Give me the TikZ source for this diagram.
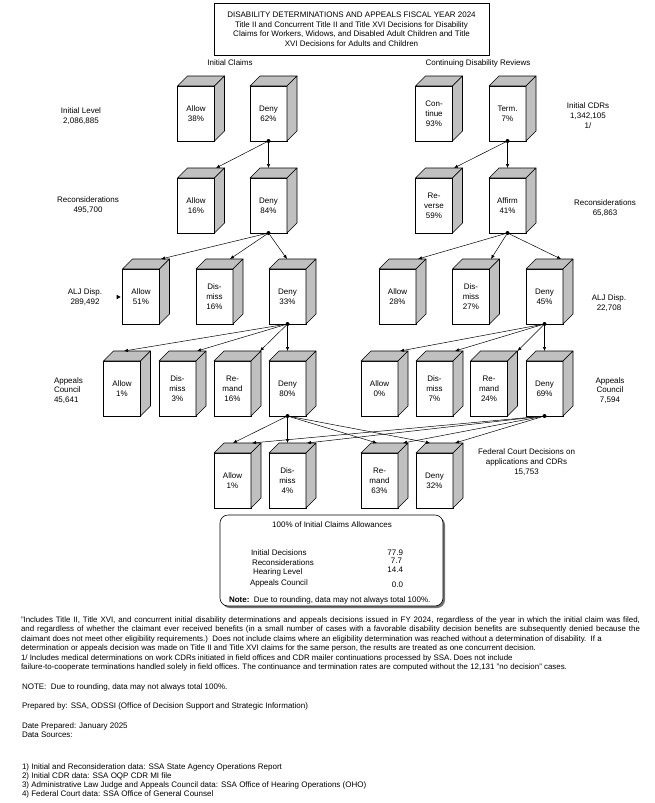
\documentclass[tikz,border=0pt]{standalone}
\usepackage{fontspec}
\setmainfont{Liberation Sans}
\usetikzlibrary{arrows.meta,calc,shadows}
\definecolor{facegray}{HTML}{C0C0C0}
\newcommand{\cubebox}[4]{%
  \node[front] (#1) at (#2,#3) {#4};
  \draw[face] (#1.north west) -- ++(10,-10) -- ($(#1.north east)+(10,-10)$) -- (#1.north east) -- cycle;
  \draw[face] (#1.north east) -- ++(10,-10) -- ($(#1.south east)+(10,-10)$) -- (#1.south east) -- cycle;
}
\begin{document}
\begin{tikzpicture}[x=1pt,y=-1pt,
  every node/.style={inner sep=0pt, outer sep=0pt},
  lbl/.style={font=\fontsize{8}{9.8}\selectfont, align=center},
  lbll/.style={font=\fontsize{8}{9.8}\selectfont, align=left},
  txt/.style={font=\fontsize{8}{9.5}\selectfont, anchor=west},
  fnt/.style={font=\fontsize{7.9}{9.5}\selectfont, anchor=west},
  front/.style={draw, fill=white, line width=0.6pt, minimum width=37pt, minimum height=55pt, font=\fontsize{8}{10}\selectfont, align=center},
  face/.style={draw, fill=facegray, line width=0.6pt, line join=round},
  arr/.style={line width=0.5pt, -{Latex[length=4pt,width=3.4pt]}},
  dotn/.style={circle, fill=black, minimum size=4pt}]
\useasboundingbox (0,0) rectangle (654,803);

% title
\node[draw, line width=0.6pt, minimum width=275pt, minimum height=52pt, font=\fontsize{8}{9.5}\selectfont, align=center] (title) at (351.5,29)
  {DISABILITY DETERMINATIONS AND APPEALS FISCAL YEAR 2024\\
   Title II and Concurrent Title II and Title XVI Decisions for Disability\\
   Claims for Workers, Widows, and Disabled Adult Children and Title\\
   XVI Decisions for Adults and Children};

\node[lbl] (hic) at (230,63) {Initial Claims};
\node[lbl] (hcdr) at (478,63) {Continuing Disability Reviews};

% side labels
\node[lbl] (l1) at (81,116) {Initial Level\\2,086,885};
\node[lbl] (l2) at (88,205) {Reconsiderations\\495,700};
\node[lbl] (l3) at (85,297) {ALJ Disp.\\289,492};
\node[lbll, anchor=west] (l4) at (54,390.5) {Appeals\\Council\\45,641};
\node[lbl] (r1) at (588,115.5) {Initial CDRs\\1,342,105\\1/};
\node[lbl] (r2) at (605,208) {Reconsiderations\\65,863};
\node[lbl] (r3) at (609,303) {ALJ Disp.\\22,708};
\node[lbl] (r4) at (610,390.5) {Appeals\\Council\\7,594};
\node[lbl] (fcl) at (526.5,462) {Federal Court Decisions on\\applications and CDRs\\15,753};

% boxes row 1
\cubebox{icA}{196}{113.5}{Allow\\38\%}
\cubebox{icD}{268.5}{113.5}{Deny\\62\%}
\cubebox{cdC}{434}{113.5}{Con-\\tinue\\93\%}
\cubebox{cdT}{507.5}{113.5}{Term.\\7\%}
% row 2
\cubebox{rcA}{196}{205.5}{Allow\\16\%}
\cubebox{rcD}{268.5}{205.5}{Deny\\84\%}
\cubebox{crR}{434}{205.5}{Re-\\verse\\59\%}
\cubebox{crA}{507.5}{205.5}{Affirm\\41\%}
% row 3 ALJ
\cubebox{laA}{141}{296.5}{Allow\\51\%}
\cubebox{laS}{214.5}{296.5}{Dis-\\miss\\16\%}
\cubebox{laD}{287.5}{296.5}{Deny\\33\%}
\cubebox{raA}{397.5}{296.5}{Allow\\28\%}
\cubebox{raS}{471}{296.5}{Dis-\\miss\\27\%}
\cubebox{raD}{544.5}{296.5}{Deny\\45\%}
% row 4 AC
\cubebox{acA}{122}{388.5}{Allow\\1\%}
\cubebox{acS}{177.5}{388.5}{Dis-\\miss\\3\%}
\cubebox{acR}{232.5}{388.5}{Re-\\mand\\16\%}
\cubebox{acD}{287.5}{388.5}{Deny\\80\%}
\cubebox{bcA}{379.5}{388.5}{Allow\\0\%}
\cubebox{bcS}{434.5}{388.5}{Dis-\\miss\\7\%}
\cubebox{bcR}{489}{388.5}{Re-\\mand\\24\%}
\cubebox{bcD}{544.5}{388.5}{Deny\\69\%}
% row 5 federal court
\cubebox{fcA}{232.5}{480.5}{Allow\\1\%}
\cubebox{fcS}{287.5}{480.5}{Dis-\\miss\\4\%}
\cubebox{fcR}{379.5}{480.5}{Re-\\mand\\63\%}
\cubebox{fcD}{434.5}{480.5}{Deny\\32\%}

% dots
\node[dotn] (d1) at (icD.south) {};
\node[dotn] (d2) at (rcD.south) {};
\node[dotn] (d3) at (laD.south) {};
\node[dotn] (d4) at (acD.south) {};
\node[dotn] (e1) at (cdT.south) {};
\node[dotn] (e2) at (crA.south) {};
\node[dotn] (e3) at (raD.south) {};
\node[dotn] (e4) at (bcD.south) {};

% arrows left
\draw[arr] (d1) -- ($(rcA.north)+(20,-10)$);
\draw[arr] (d1) -- ($(rcD.north)+(0,-10)$);
\draw[arr] (d2) -- ($(laA.north)+(20,-10)$);
\draw[arr] (d2) -- ($(laS.north)+(15.5,-10)$);
\draw[arr] (d2) -- ($(laD.north)+(-0.5,-10)$);
\draw[arr] (d3) -- ($(acA.north)+(2,-10)$);
\draw[arr] (d3) -- ($(acS.north)+(19.5,-10)$);
\draw[arr] (d3) -- ($(acR.north)+(27.5,-10)$);
\draw[arr] (d3) -- ($(acD.north)+(0,-10)$);
% arrows right
\draw[arr] (e1) -- ($(crR.north)+(20,-10)$);
\draw[arr] (e1) -- ($(crA.north)+(0,-10)$);
\draw[arr] (e2) -- ($(raA.north)+(20.5,-10)$);
\draw[arr] (e2) -- ($(raS.north)+(20,-10)$);
\draw[arr] (e2) -- ($(raD.north)+(16.5,-10)$);
\draw[arr] (e3) -- ($(bcA.north)+(20.5,-10)$);
\draw[arr] (e3) -- ($(bcS.north)+(20.5,-10)$);
\draw[arr] (e3) -- ($(bcR.north)+(28.5,-10)$);
\draw[arr] (e3) -- ($(bcD.north)+(0,-10)$);
% federal court arrows
\draw[arr] (d4) -- ($(fcA.north)+(0.5,-10)$);
\draw[arr] (d4) -- ($(fcS.north)+(0,-10)$);
\draw[arr] (d4) -- ($(fcR.north)+(-2.5,-10)$);
\draw[arr] (d4) -- ($(fcD.north)+(-4.5,-10)$);
\draw[arr] (e4) -- ($(fcA.north)+(19.5,-10)$);
\draw[arr] (e4) -- ($(fcS.north)+(19.5,-10)$);
\draw[arr] (e4) -- ($(fcR.north)+(23.5,-10)$);
\draw[arr] (e4) -- ($(fcD.north)+(20.5,-10)$);

% stray arrowhead near ALJ allow
\fill (116.7,294.8) -- (120.7,297) -- (116.7,299.2) -- cycle;

% summary box
\node[draw, fill=white, line width=0.6pt, rounded corners=8pt, minimum width=223pt, minimum height=91pt,
  drop shadow={shadow xshift=2pt, shadow yshift=-2pt, fill=black!55, opacity=1}] (sum) at (331.5,560.5) {};
\node[lbl] (sumt) at (332,525) {100\% of Initial Claims Allowances};
\node[txt] (s1) at (251,553) {Initial Decisions};
\node[txt] (s2) at (252,563) {Reconsiderations};
\node[txt] (s3) at (253,572) {Hearing Level};
\node[txt] (s4) at (250,583) {Appeals Council};
\node[txt, anchor=east] (v1) at (403,553) {77.9};
\node[txt, anchor=east] (v2) at (402,561) {7.7};
\node[txt, anchor=east] (v3) at (403,570) {14.4};
\node[txt, anchor=east] (v4) at (403,585) {0.0};
\node[txt] (snote) at (229,600) {\textbf{Note:}\ \ Due to rounding, data may not always total 100\%.};

% footnotes
\node[fnt] (f1) at (21,620) {\makebox[619pt][s]{"Includes Title II, Title XVI, and concurrent initial disability determinations and appeals decisions issued in FY 2024, regardless of the year in which the initial claim was filed,}};
\node[fnt] (f2) at (21,629.5) {\makebox[619pt][s]{and regardless of whether the claimant ever received benefits (in a small number of cases with a favorable disability decision benefits are subsequently denied because the}};
\node[fnt] (f3) at (21,639) {claimant does not meet other eligibility requirements.)\ \ Does not include claims where an eligibility determination was reached without a determination of disability.\ \ If a};
\node[fnt] (f4) at (21,648.5) {determination or appeals decision was made on Title II and Title XVI claims for the same person, the results are treated as one concurrent decision.};
\node[fnt] (f5) at (21,658) {1/ Includes medical determinations on work CDRs initiated in field offices and CDR mailer continuations processed by SSA. Does not include};
\node[fnt] (f6) at (21,667.5) {failure-to-cooperate terminations handled solely in field offices. The continuance and termination rates are computed without the 12,131 "no decision" cases.};

\node[txt] (n1) at (22,687) {NOTE:\ \ Due to rounding, data may not always total 100\%.};
\node[txt] (n2) at (22,706) {Prepared by: SSA, ODSSI (Office of Decision Support and Strategic Information)};
\node[txt] (n3) at (22,726) {Date Prepared: January 2025};
\node[txt] (n4) at (22,735) {Data Sources:};
\node[txt] (n5) at (22,767) {1) Initial and Reconsideration data: SSA State Agency Operations Report};
\node[txt] (n6) at (22,776) {2) Initial CDR data: SSA OQP CDR MI file};
\node[txt] (n7) at (22,785) {3) Administrative Law Judge and Appeals Council data: SSA Office of Hearing Operations (OHO)};
\node[txt] (n8) at (22,794) {4) Federal Court data: SSA Office of General Counsel};
\end{tikzpicture}
\end{document}
